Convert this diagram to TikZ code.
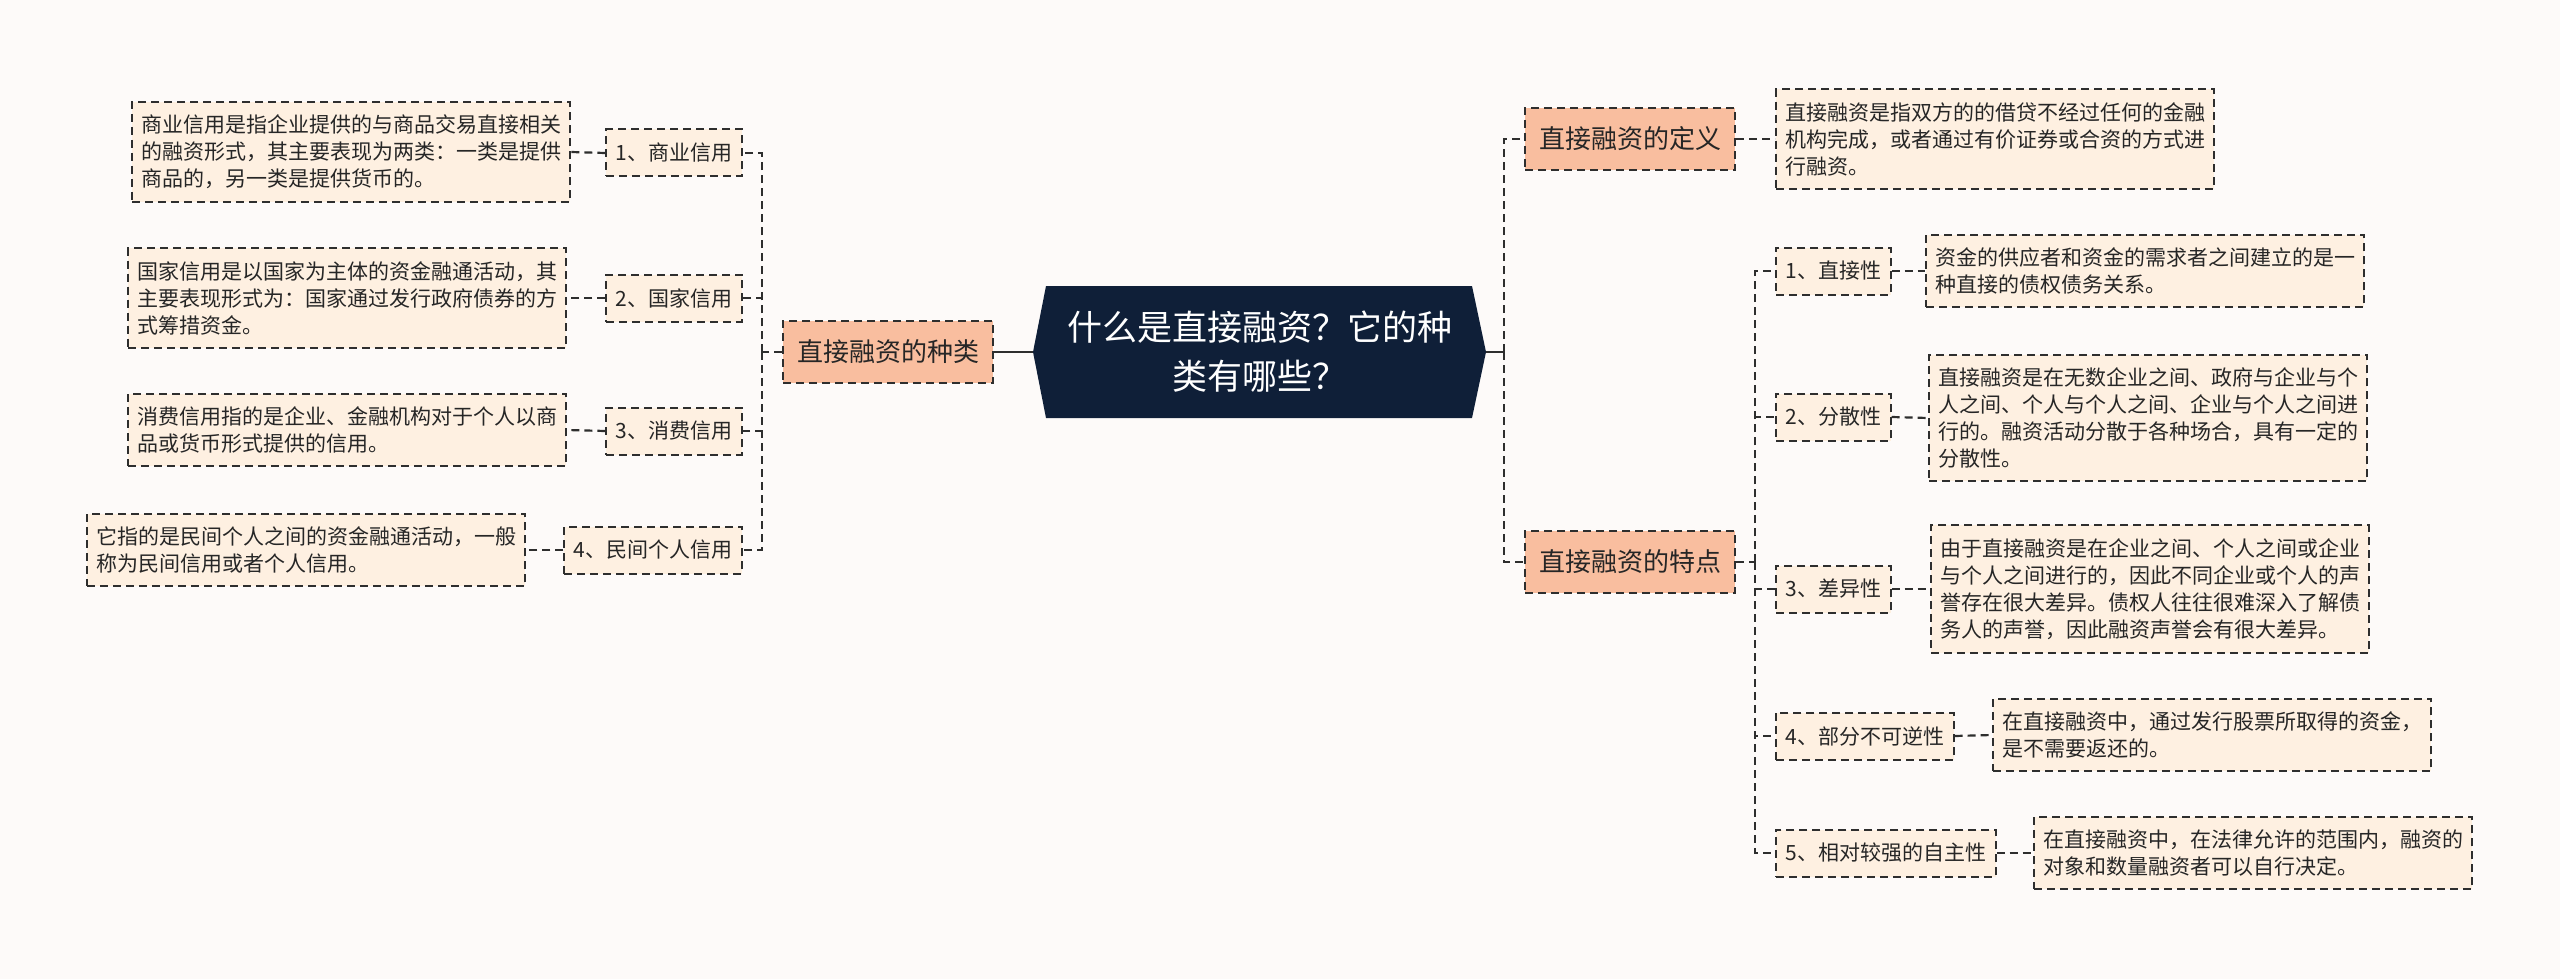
\documentclass[tikz,border=0pt]{standalone}
\usepackage{fontspec}
\setmainfont{Noto Sans CJK SC}
\definecolor{bg}{HTML}{FDFAF9}
\definecolor{leafc}{HTML}{FEF0E1}
\definecolor{mainc}{HTML}{F9BE9F}
\definecolor{navy}{HTML}{0F1F38}
\definecolor{ln}{HTML}{2E2E2E}
\begin{document}
\begin{tikzpicture}[x=1pt,y=-1pt,
  dsh/.style={dash pattern=on 8pt off 5pt},
  conn/.style={draw=ln, line width=2.2pt, dsh},
  solidconn/.style={draw=ln, line width=2.8pt},
  boxbase/.style={draw=ln, line width=2pt, dsh, text=black!85},
  leafbox/.style={boxbase, fill=leafc, font=\fontsize{21}{27}\selectfont, align=left, inner xsep=9pt, inner ysep=13pt},
  subbox/.style={boxbase, fill=leafc, font=\fontsize{21}{25}\selectfont, inner xsep=9.5pt, inner ysep=0pt, minimum height=47pt},
  mainbox/.style={boxbase, fill=mainc, font=\fontsize{26}{30}\selectfont, inner xsep=14pt, inner ysep=0pt, minimum height=62pt},
  centerbox/.style={text=white, font=\fontsize{35}{49}\selectfont, align=center, minimum width=453pt, minimum height=132pt, inner sep=0pt}
]
\useasboundingbox (0,0) rectangle (2560,979);
\fill[bg] (0,0) rectangle (2560,979);

% center hexagon
\fill[navy] (1033,352) -- (1046,286) -- (1472,286) -- (1486,352) -- (1472,418) -- (1046,418) -- cycle;
\node[centerbox] (c) at (1259.5,352) {什么是直接融资？它的种\\类有哪些？};

% left main
\node[mainbox] (kind) at (888,352) {直接融资的种类};

% left subnodes
\node[subbox, anchor=east] (k1) at (743,153) {1、商业信用};
\node[subbox, anchor=east] (k2) at (743,298) {2、国家信用};
\node[subbox, anchor=east] (k3) at (743,431) {3、消费信用};
\node[subbox, anchor=east] (k4) at (743,550) {4、民间个人信用};

% left leaves
\node[leafbox, anchor=east] (l1) at (571,152) {商业信用是指企业提供的与商品交易直接相关\\的融资形式，其主要表现为两类：一类是提供\\商品的，另一类是提供货币的。};
\node[leafbox, anchor=east] (l2) at (567,298) {国家信用是以国家为主体的资金融通活动，其\\主要表现形式为：国家通过发行政府债券的方\\式筹措资金。};
\node[leafbox, anchor=east] (l3) at (567,430) {消费信用指的是企业、金融机构对于个人以商\\品或货币形式提供的信用。};
\node[leafbox, anchor=east] (l4) at (526,550) {它指的是民间个人之间的资金融通活动，一般\\称为民间信用或者个人信用。};

% right mains
\node[mainbox] (def) at (1630,139) {直接融资的定义};
\node[mainbox] (feat) at (1630,562) {直接融资的特点};

\node[leafbox, anchor=west] (d1) at (1775,139) {直接融资是指双方的的借贷不经过任何的金融\\机构完成，或者通过有价证券或合资的方式进\\行融资。};

% feature subnodes
\node[subbox, anchor=west] (f1) at (1775,271) {1、直接性};
\node[subbox, anchor=west] (f2) at (1775,417) {2、分散性};
\node[subbox, anchor=west] (f3) at (1775,589) {3、差异性};
\node[subbox, anchor=west] (f4) at (1775,736) {4、部分不可逆性};
\node[subbox, anchor=west] (f5) at (1775,853) {5、相对较强的自主性};

% feature leaves
\node[leafbox, anchor=west] (g1) at (1925,271) {资金的供应者和资金的需求者之间建立的是一\\种直接的债权债务关系。};
\node[leafbox, anchor=west] (g2) at (1928,418) {直接融资是在无数企业之间、政府与企业与个\\人之间、个人与个人之间、企业与个人之间进\\行的。融资活动分散于各种场合，具有一定的\\分散性。};
\node[leafbox, anchor=west] (g3) at (1930,589) {由于直接融资是在企业之间、个人之间或企业\\与个人之间进行的，因此不同企业或个人的声\\誉存在很大差异。债权人往往很难深入了解债\\务人的声誉，因此融资声誉会有很大差异。};
\node[leafbox, anchor=west] (g4) at (1992,735) {在直接融资中，通过发行股票所取得的资金，\\是不需要返还的。};
\node[leafbox, anchor=west] (g5) at (2033,853) {在直接融资中，在法律允许的范围内，融资的\\对象和数量融资者可以自行决定。};

% junctions
\coordinate (jR) at (1504,352);
\coordinate (jL) at (762,352);
\coordinate (jF) at (1755,562);

% connectors center
\draw[solidconn] (c.west) -- (kind.east);
\draw[solidconn] (c.east) -- (jR);
\draw[conn] (jR) |- (def.west);
\draw[conn] (jR) |- (feat.west);

% left tree
\draw[conn] (kind.west) -- (jL);
\foreach \k in {k1,k2,k3,k4}{\draw[conn] (jL) |- (\k.east);}
\draw[conn] (k1.west) -- (l1.east);
\draw[conn] (k2.west) -- (l2.east);
\draw[conn] (k3.west) -- (l3.east);
\draw[conn] (k4.west) -- (l4.east);

% right tree
\draw[conn] (def.east) -- (d1.west);
\draw[conn] (feat.east) -- (jF);
\foreach \f in {f1,f2,f3,f4,f5}{\draw[conn] (jF) |- (\f.west);}
\draw[conn] (f1.east) -- (g1.west);
\draw[conn] (f2.east) -- (g2.west);
\draw[conn] (f3.east) -- (g3.west);
\draw[conn] (f4.east) -- (g4.west);
\draw[conn] (f5.east) -- (g5.west);
\end{tikzpicture}
\end{document}
